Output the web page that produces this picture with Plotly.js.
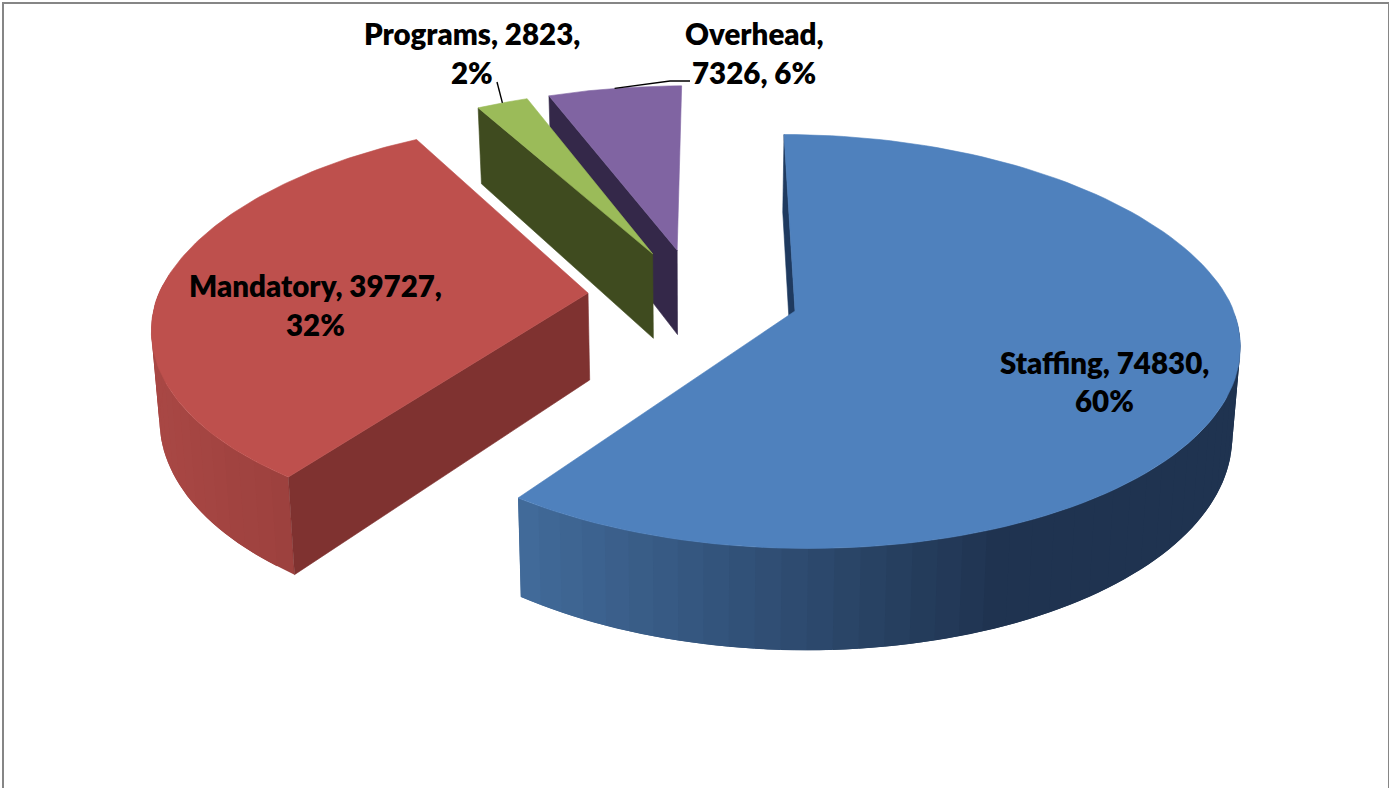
<!DOCTYPE html>
<html><head><meta charset="utf-8">
<script src="https://cdn.plot.ly/plotly-3.0.1.min.js"></script>
<style>html,body{margin:0;padding:0;background:#fff;overflow:hidden}#chart{width:1389px;height:788px}</style>
</head><body><div id="chart"></div>
<script>
// Data, in the clockwise order of the pie
const categories = ['Staffing', 'Mandatory', 'Programs', 'Overhead'];
const values = [74830, 39727, 2823, 7326];
const labelLines = [
  ['Staffing, 74830,', '60%'],
  ['Mandatory, 39727,', '32%'],
  ['Programs, 2823,', '2%'],
  ['Overhead,', '7326, 6%']
];
const labelCentres = [[1104, 362, 400], [315, 285, 324], [472, 33, 72], [754, 33, 72]];
const topColours = ['#4F81BD', '#BE504D', '#9BBB59', '#8064A2'];
const cutColours = ['#1F3A5F', '#7F3230', '#3F4B1F', '#342849'];
const rimLeft = ['#416A99', '#A84744', '#5E7236', '#4D3C62'];
const rimRight = ['#1F3350', '#9B403D', '#5E7236', '#4D3C62'];
const rimStops = [[526, 1000], [160, 300], [470, 530], [545, 680]];
const leaders = [null, null, [[497, 82]], [[690, 81], [670, 81]]];
const explosions = [0.24, 0.248, 0.24, 0.24];
const radii = [0.992, 1, 1, 1];

// Projection of the tilted pie onto the page
const VP = {x: 712, y: -1186}, C = {x: 695, y: 296};
const A = 434, K = 0.135, DEPTH = 87, SHRINK = 0.985;
const KH = 0.006, KT = 0.02, RIM_DROP = 0.012;
const total = values.reduce((a, b) => a + b, 0);

function proj(u, v, low) {
  const w = 1 + K * v;
  const wx = w - KH * u + KT * Math.max(v, 0);
  let x = VP.x + (C.x - VP.x + A * u) / wx;
  let y = VP.y + (C.y - VP.y) / w;
  if (low) { x = 700 + (x - 700) * SHRINK; y += DEPTH / w; }
  return [x, y];
}
const rad = d => d * Math.PI / 180;
function hex(c) { return [1, 3, 5].map(i => parseInt(c.substr(i, 2), 16)); }
function mix(a, b, t) {
  t = Math.max(0, Math.min(1, t));
  const p = hex(a), q = hex(b);
  return 'rgb(' + p.map((n, i) => Math.round(n + (q[i] - n) * t)).join(',') + ')';
}
function poly(pts, colour, w) {
  return {type: 'scatter', mode: 'lines', x: pts.map(p => p[0]), y: pts.map(p => p[1]),
    fill: 'toself', fillcolor: colour, line: {color: colour, width: w === undefined ? 0.6 : w},
    hoverinfo: 'skip', showlegend: false};
}

// Compute each slice's angular span from the values
let acc = 0;
const slices = values.map((val, i) => {
  const a0 = acc / total * 360; acc += val; const a1 = acc / total * 360;
  const mid = rad((a0 + a1) / 2);
  return {i, a0, a1, cu: explosions[i] * Math.sin(mid), cv: explosions[i] * Math.cos(mid), mid};
});

const traces = [];
const annotations = [];
const drawOrder = [3, 2, 1, 0];
drawOrder.forEach(i => {
  const s = slices[i];
  const r = radii[i];
  const pt = (deg, low) => proj(s.cu + r * Math.sin(rad(deg)), s.cv + r * Math.cos(rad(deg)) - RIM_DROP, low);
  const centre = low => proj(s.cu, s.cv, low);
  // rim, shaded across the page in overlapping bands; only the near side shows
  const band = 3;
  for (let d = s.a0; d < s.a1; d += band) {
    if (Math.cos(rad(d)) > 0.03) continue;
    const d1 = Math.min(d + band * 2, s.a1);
    const p = pt(d, false), q = pt(Math.min(d + band, s.a1), false);
    const t = ((p[0] + q[0]) / 2 - rimStops[i][0]) / (rimStops[i][1] - rimStops[i][0]);
    const quad = [];
    const n = 4;
    for (let k = 0; k <= n; k++) quad.push(pt(d + (d1 - d) * k / n, false));
    for (let k = n; k >= 0; k--) quad.push(pt(d + (d1 - d) * k / n, true));
    quad.push(quad[0]);
    traces.push(poly(quad, mix(rimLeft[i], rimRight[i], t), 0));
  }
  // the cut face that looks towards the viewer
  traces.push(poly([centre(false), pt(s.a0, false), pt(s.a0, true), centre(true), centre(false)], cutColours[i]));
  // top face
  const top = [centre(false)];
  for (let k = 0; k <= 120; k++) top.push(pt(s.a0 + (s.a1 - s.a0) * k / 120, false));
  top.push(centre(false));
  traces.push(poly(top, topColours[i]));
  // leader
  if (leaders[i]) {
    const end = pt((s.a0 + s.a1) / 2, false);
    const path = leaders[i].concat([end]);
    traces.push({type: 'scatter', mode: 'lines', x: path.map(p => p[0]), y: path.map(p => p[1]),
      line: {color: '#000', width: 1.4}, hoverinfo: 'skip', showlegend: false});
  }
});

labelLines.forEach((lines, i) => {
  lines.forEach((txt, j) => {
    annotations.push({x: labelCentres[i][0], y: labelCentres[i][j + 1], xref: 'x', yref: 'y',
      text: txt, showarrow: false, xanchor: 'center', yanchor: 'middle',
      font: {family: 'Lato, Carlito, sans-serif', size: 29.5, color: '#000', weight: 800}});
  });
});

const layout = {
  width: 1389, height: 788, margin: {l: 0, r: 0, t: 0, b: 0},
  paper_bgcolor: '#fff', plot_bgcolor: '#fff', showlegend: false,
  xaxis: {range: [0, 1389], visible: false, fixedrange: true},
  yaxis: {range: [788, 0], visible: false, fixedrange: true},
  annotations,
  shapes: [
    {type: 'line', xref: 'x', yref: 'y', x0: 2, x1: 1389, y0: 3, y1: 3, line: {color: '#868686', width: 2}},
    {type: 'line', xref: 'x', yref: 'y', x0: 3, x1: 3, y0: 2, y1: 788, line: {color: '#868686', width: 2}},
    {type: 'line', xref: 'x', yref: 'y', x0: 1389, x1: 1389, y0: 2, y1: 788, line: {color: '#868686', width: 2}}
  ]
};
Plotly.newPlot('chart', traces, layout, {displayModeBar: false, staticPlot: true});
</script></body></html>
